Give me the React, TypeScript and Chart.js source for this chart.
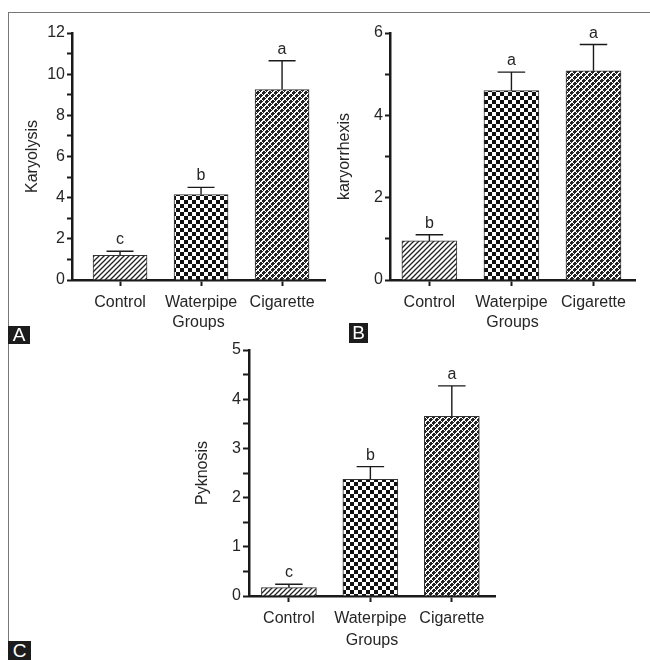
import React, { useEffect, useRef } from 'react';
import { Chart, registerables } from 'chart.js';
Chart.register(...registerables);

const categories = ['Control', 'Waterpipe', 'Cigarette'];
const xAxisTitle = 'Groups';

const karyolysisMeans = [1.2, 4.15, 9.25];
const karyolysisErrors = [0.2, 0.35, 1.4];
const karyolysisLetters = ['c', 'b', 'a'];

const karyorrhexisMeans = [0.95, 4.6, 5.08];
const karyorrhexisErrors = [0.15, 0.45, 0.64];
const karyorrhexisLetters = ['b', 'a', 'a'];

const pyknosisMeans = [0.17, 2.37, 3.65];
const pyknosisErrors = [0.07, 0.26, 0.62];
const pyknosisLetters = ['c', 'b', 'a'];

const FONT = "'Liberation Sans', Arial, Helvetica, sans-serif";
const INK = '#1a1a1a';
const TEXT = '#262626';

function makePattern(kind: string): CanvasPattern | string {
  const c = document.createElement('canvas');
  const g = c.getContext('2d');
  if (!g) return '#888';
  if (kind === 'hatch') {
    c.width = 5; c.height = 5;
    g.fillStyle = '#fff'; g.fillRect(0, 0, 5, 5);
    g.strokeStyle = '#222'; g.lineWidth = 1.3;
    g.beginPath();
    g.moveTo(-1, 6); g.lineTo(6, -1);
    g.moveTo(-1, 1); g.lineTo(1, -1);
    g.moveTo(4, 6); g.lineTo(6, 4);
    g.stroke();
  } else if (kind === 'checker') {
    c.width = 8; c.height = 8;
    g.fillStyle = '#fff'; g.fillRect(0, 0, 8, 8);
    g.fillStyle = '#111';
    g.fillRect(0, 0, 4, 4); g.fillRect(4, 4, 4, 4);
  } else {
    c.width = 6; c.height = 6;
    const img = g.createImageData(6, 6);
    for (let y = 0; y < 6; y++) {
      for (let x = 0; x < 6; x++) {
        const dark = (x + y) % 6 < 4 && (x - y + 12) % 6 !== 0;
        const v = dark ? 35 : 255;
        const i = (y * 6 + x) * 4;
        img.data[i] = v; img.data[i + 1] = v; img.data[i + 2] = v; img.data[i + 3] = 255;
      }
    }
    g.putImageData(img, 0, 0);
  }
  return g.createPattern(c, 'repeat') || '#888';
}

const errorBarsPlugin = {
  id: 'errorBars',
  afterDatasetsDraw(chart: any, _args: any, opts: any) {
    const ctx = chart.ctx;
    const meta = chart.getDatasetMeta(0);
    const y = chart.scales.y;
    const means: number[] = opts.means;
    const errs: number[] = opts.errors;
    const letters: string[] = opts.letters;
    ctx.save();
    meta.data.forEach((el: any, i: number) => {
      const top = y.getPixelForValue(means[i] + errs[i]);
      const cap = opts.cap / 2;
      ctx.strokeStyle = INK;
      ctx.lineWidth = 1.4;
      ctx.beginPath();
      ctx.moveTo(el.x, el.y);
      ctx.lineTo(el.x, top);
      ctx.moveTo(el.x - cap, top);
      ctx.lineTo(el.x + cap, top);
      ctx.stroke();
      ctx.fillStyle = TEXT;
      ctx.font = `16px ${FONT}`;
      ctx.textAlign = 'center';
      ctx.textBaseline = 'alphabetic';
      ctx.fillText(letters[i], el.x, top - 7);
    });
    ctx.restore();
  },
};

type PanelProps = {
  left: number; top: number; width: number; height: number;
  means: number[]; errors: number[]; letters: string[];
  yTitle: string; yMax: number; yStep: number; labelStep: number;
  xMin: number; xMax: number;
  pad: { left: number; top: number; right: number; bottom: number };
  yWidth: number; xHeight: number; yTitlePad: number; xTitlePad: number;
  barThickness: number; yTickLen: number;
};

function Panel(p: PanelProps) {
  const ref = useRef<HTMLCanvasElement>(null);
  useEffect(() => {
    if (!ref.current) return;
    const fills = [makePattern('hatch'), makePattern('checker'), makePattern('woven')];
    const chart = new Chart(ref.current, {
      type: 'bar',
      data: {
        datasets: [{
          data: p.means.map((v, i) => ({ x: i, y: v })),
          backgroundColor: fills as any,
          borderColor: '#333',
          borderWidth: 1,
          barThickness: p.barThickness,
        }],
      },
      options: {
        animation: false,
        responsive: false,
        layout: { padding: p.pad },
        plugins: {
          legend: { display: false },
          tooltip: { enabled: false },
          errorBars: { means: p.means, errors: p.errors, letters: p.letters, cap: p.barThickness / 2 },
        } as any,
        scales: {
          x: {
            type: 'linear',
            min: p.xMin,
            max: p.xMax,
            offset: false,
            bounds: 'data',
            afterBuildTicks: (s: any) => { s.ticks = [0, 1, 2].map((v) => ({ value: v })); },
            afterFit: (s: any) => { s.height = p.xHeight; },
            grid: { display: true, offset: false, drawOnChartArea: false, drawTicks: true, tickLength: 6, tickWidth: 2, tickColor: INK, color: INK },
            border: { display: true, width: 2.5, color: INK },
            ticks: {
              autoSkip: false, maxRotation: 0, padding: 7,
              color: TEXT, font: { family: FONT, size: 16 },
              callback: (v: any) => categories[v as number] ?? '',
            },
            title: { display: true, text: xAxisTitle, color: TEXT, font: { family: FONT, size: 16 }, padding: { top: 0, bottom: p.xTitlePad } },
          },
          y: {
            min: 0,
            max: p.yMax,
            afterFit: (s: any) => { s.width = p.yWidth; },
            grid: { display: true, drawOnChartArea: false, drawTicks: true, tickLength: p.yTickLen, tickWidth: 2, tickColor: INK, color: INK },
            border: { display: true, width: 2.5, color: INK },
            ticks: {
              stepSize: p.yStep, autoSkip: false, padding: 2,
              color: TEXT, font: { family: FONT, size: 16 },
              callback: (v: any) => {
                const n = Number(v);
                const r = n / p.labelStep;
                return Math.abs(r - Math.round(r)) < 1e-6 ? String(n) : '';
              },
            },
            title: { display: true, text: p.yTitle, color: TEXT, font: { family: FONT, size: 16 }, padding: { top: p.yTitlePad, bottom: 0 } },
          },
        },
      },
      plugins: [errorBarsPlugin],
    } as any);
    return () => chart.destroy();
  }, []);
  return (
    <canvas
      ref={ref}
      width={p.width}
      height={p.height}
      style={{ position: 'absolute', left: p.left, top: p.top, width: p.width, height: p.height }}
    />
  );
}

const boxLabel = (text: string, left: number, top: number, w: number, h: number) => (
  <div style={{
    position: 'absolute', left, top, width: w, height: h, background: '#1c1c1c', color: '#fff',
    fontFamily: FONT, fontSize: 19, lineHeight: `${h}px`, textAlign: 'center',
  }}>{text}</div>
);

export default function App() {
  return (
    <div style={{ position: 'absolute', left: 0, top: 0, width: 650, height: 660, background: '#fff', overflow: 'hidden' }}>
      <div style={{ position: 'absolute', left: 8, top: 12, width: 642, height: 1, background: '#777' }} />
      <div style={{ position: 'absolute', left: 8, top: 12, width: 1, height: 630, background: '#777' }} />
      <Panel
        left={0} top={0} width={330} height={340}
        means={karyolysisMeans} errors={karyolysisErrors} letters={karyolysisLetters}
        yTitle="Karyolysis" yMax={12} yStep={1} labelStep={2}
        xMin={-0.593} xMax={2.53}
        pad={{ left: 16, top: 33, right: 5, bottom: 0 }}
        yWidth={56} xHeight={60} yTitlePad={7} xTitlePad={8}
        barThickness={54} yTickLen={5}
      />
      <Panel
        left={320} top={0} width={330} height={340}
        means={karyorrhexisMeans} errors={karyorrhexisErrors} letters={karyorrhexisLetters}
        yTitle="karyorrhexis" yMax={6} yStep={1} labelStep={2}
        xMin={-0.48} xMax={2.506}
        pad={{ left: 12, top: 33, right: 15, bottom: 0 }}
        yWidth={58} xHeight={60} yTitlePad={3} xTitlePad={8}
        barThickness={55} yTickLen={5}
      />
      <Panel
        left={170} top={330} width={330} height={330}
        means={pyknosisMeans} errors={pyknosisErrors} letters={pyknosisLetters}
        yTitle="Pyknosis" yMax={5} yStep={0.5} labelStep={1}
        xMin={-0.49} xMax={2.53}
        pad={{ left: 16, top: 20, right: 5, bottom: 0 }}
        yWidth={63} xHeight={64} yTitlePad={7} xTitlePad={10}
        barThickness={55} yTickLen={6}
      />
      {boxLabel('A', 8, 326, 22, 18)}
      {boxLabel('B', 349, 323, 19, 20)}
      {boxLabel('C', 8, 641, 23, 19)}
    </div>
  );
}
